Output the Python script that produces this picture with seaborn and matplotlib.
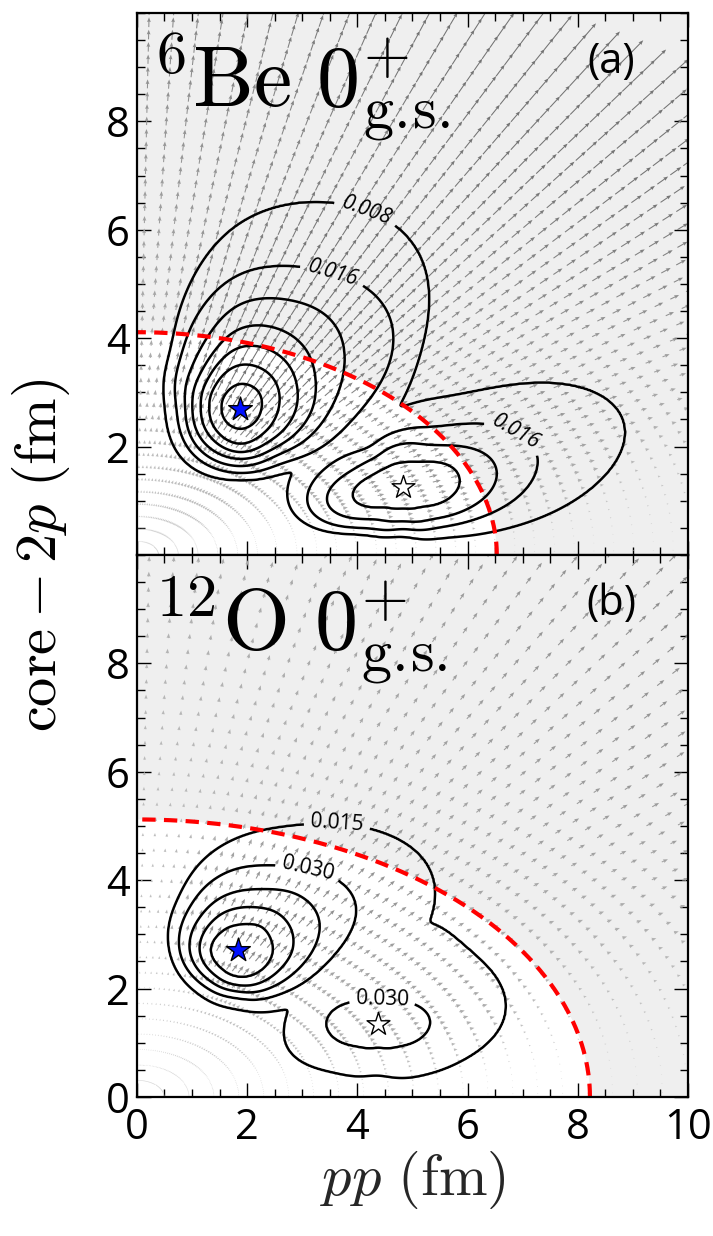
import numpy as np
import matplotlib
matplotlib.use("Agg")
import matplotlib.pyplot as plt
import seaborn as sns

# ---------------- data ----------------
panel_tags = ["(a)", "(b)"]
panel_titles = [r"$^{6}\mathrm{Be}\ 0^{+}_{\mathrm{g.\!s.}}$",
                r"$^{12}\mathrm{O}\ 0^{+}_{\mathrm{g.\!s.}}$"]

# contour levels
levels_a = [0.008, 0.016, 0.024, 0.032, 0.040, 0.048, 0.056]
levels_b = [0.015, 0.030, 0.045, 0.060, 0.075]

# Each density lobe: peak value, centre, and the distance (fm) from the centre
# at which each iso-density level is crossed, read along several directions.
# rows = directions (deg), columns = levels from the highest to the lowest
# ---- panel (a) 6Be, lobe at the blue star
a1_peak, a1_x, a1_y = 0.064, 1.87, 2.72
a1_levels = [0.056, 0.048, 0.040, 0.032, 0.024, 0.016, 0.008]
a1_dir = [0, 20, 35, 45, 65, 90, 110, 135, 180, 225, 270, 310, 340]
a1_dist = [
    [0.39, 0.70, 1.03, 1.33, 1.63, 2.13, 2.88],
    [0.42, 0.76, 1.10, 1.45, 2.00, 3.03, 3.44],
    [0.44, 0.80, 1.17, 1.58, 2.30, 3.38, 4.30],
    [0.45, 0.82, 1.20, 1.65, 2.40, 3.21, 4.58],
    [0.45, 0.82, 1.20, 1.62, 2.17, 2.82, 4.20],
    [0.44, 0.80, 1.14, 1.50, 1.97, 2.52, 3.50],
    [0.40, 0.70, 0.93, 1.15, 1.45, 1.95, 2.45],
    [0.36, 0.60, 0.78, 0.95, 1.15, 1.42, 1.64],
    [0.33, 0.55, 0.70, 0.85, 0.97, 1.12, 1.33],
    [0.36, 0.60, 0.76, 0.92, 1.07, 1.22, 1.43],
    [0.40, 0.68, 0.83, 0.95, 1.08, 1.20, 1.32],
    [0.38, 0.63, 0.80, 0.95, 1.08, 1.25, 1.44],
    [0.38, 0.66, 0.92, 1.15, 1.40, 1.75, 2.30],
]
# ---- panel (a), lobe at the white star
a2_peak, a2_x, a2_y = 0.038, 4.83, 1.27
a2_levels = [0.032, 0.024, 0.016, 0.008]
a2_dir = [0, 16, 33, 45, 60, 90, 135, 165, 192, 225, 270, 315, 340]
a2_dist = [
    [1.07, 1.72, 2.35, 3.45],
    [1.07, 1.85, 2.75, 4.80],
    [0.80, 1.30, 2.05, 3.55],
    [0.60, 1.00, 1.55, 2.40],
    [0.50, 0.85, 1.20, 1.85],
    [0.43, 0.78, 1.03, 1.43],
    [0.45, 0.70, 0.90, 1.30],
    [0.60, 0.95, 1.40, 1.95],
    [1.07, 1.60, 1.95, 2.25],
    [0.50, 0.78, 1.00, 1.15],
    [0.40, 0.62, 0.75, 0.88],
    [0.50, 0.80, 1.00, 1.24],
    [0.80, 1.20, 1.50, 2.00],
]
# ---- panel (b) 12O, lobe at the blue star
b1_peak, b1_x, b1_y = 0.090, 1.84, 2.71
b1_levels = [0.075, 0.060, 0.045, 0.030, 0.015]
b1_dir = [0, 22, 45, 65, 90, 135, 180, 225, 270, 315, 340]
b1_dist = [
    [0.64, 1.00, 1.35, 1.75, 3.20],
    [0.62, 1.05, 1.65, 2.50, 4.10],
    [0.62, 1.00, 1.50, 2.05, 3.20],
    [0.52, 0.85, 1.20, 1.67, 2.47],
    [0.46, 0.77, 1.08, 1.51, 2.07],
    [0.45, 0.70, 0.92, 1.18, 1.45],
    [0.51, 0.71, 0.89, 1.07, 1.25],
    [0.45, 0.62, 0.76, 0.90, 1.08],
    [0.49, 0.64, 0.75, 0.87, 1.07],
    [0.55, 0.75, 0.92, 1.10, 1.41],
    [0.60, 0.85, 1.10, 1.40, 2.20],
]
# ---- panel (b), lobe at the white star
b2_peak, b2_x, b2_y = 0.036, 4.38, 1.35
b2_levels = [0.030, 0.015]
b2_dir = [0, 11, 45, 60, 90, 135, 169, 180, 194, 225, 270, 315, 340]
b2_dist = [
    [1.00, 2.35], [0.95, 2.45], [0.56, 2.05], [0.50, 2.20], [0.44, 1.75],
    [0.56, 1.50], [0.93, 1.63], [1.01, 1.70], [0.90, 1.83], [0.56, 1.20],
    [0.42, 0.90], [0.56, 1.27], [0.81, 1.71],
]

# maxima (stars)
blue_x = [1.87, 1.84]
blue_y = [2.70, 2.71]
white_x = [4.83, 4.38]
white_y = [1.25, 1.35]

# red dashed boundary (semi-axes)
ell_a = [6.53, 8.22]
ell_b = [4.11, 5.12]

# flux arrows: strength and angular profile on the hyperspherical grid
flux_gain = [0.15, 0.13]
flux_dens_gain = [3.0, 2.6]
flux_theta_nodes = [0, 15, 30, 45, 60, 75, 90]
flux_profile_a = [0.05, 0.25, 0.60, 0.90, 1.00, 0.85, 0.65]
flux_profile_b = [0.05, 0.30, 0.65, 0.85, 0.80, 0.60, 0.45]

# contour labels: level, x, y
lab_lev_a = [0.008, 0.016, 0.016]
lab_x_a = [4.20, 3.55, 6.95]
lab_y_a = [6.45, 5.20, 2.42]
lab_lev_b = [0.015, 0.030, 0.030]
lab_x_b = [3.63, 3.10, 4.45]
lab_y_b = [4.90, 4.20, 1.79]

x_ticks = [0, 2, 4, 6, 8, 10]
y_ticks_a = [2, 4, 6, 8]
y_ticks_b = [0, 2, 4, 6, 8]

# ---------------- style ----------------
sns.set_theme(style="ticks")
plt.rcParams.update({
    "font.family": ["Open Sans", "DejaVu Sans"],
    "mathtext.fontset": "cm",
    "text.color": "black", "axes.edgecolor": "black",
    "xtick.color": "black", "ytick.color": "black",
    "xtick.direction": "in", "ytick.direction": "in",
    "xtick.top": True, "ytick.right": True,
    "xtick.major.size": 10, "ytick.major.size": 10,
    "xtick.minor.size": 6, "ytick.minor.size": 6,
    "xtick.major.width": 1.0, "ytick.major.width": 1.0,
    "xtick.minor.width": 1.0, "ytick.minor.width": 1.0,
    "axes.linewidth": 1.6,
})


def smooth_periodic(angs, vals, sigma_deg=10.0):
    fine = np.arange(360.0)
    a = np.asarray(angs, float)
    v = np.asarray(vals, float)
    f = np.interp(fine, np.r_[a - 360, a, a + 360], np.tile(v, 3))
    half = int(3 * sigma_deg)
    k = np.exp(-0.5 * (np.arange(-half, half + 1) / sigma_deg) ** 2)
    k /= k.sum()
    f = np.convolve(np.r_[f[-half:], f, f[:half]], k, mode="valid")
    return fine, f


def lobe(X, Y, peak, x0, y0, lev, dirs, dist, decay=0.35):
    dx, dy = X - x0, Y - y0
    d = np.hypot(dx, dy)
    phi = np.degrees(np.arctan2(dy, dx)) % 360
    dist = np.asarray(dist, float)
    radii = []
    for k in range(len(lev)):
        fine, fk = smooth_periodic(dirs, dist[:, k])
        radii.append(np.interp(phi, fine, fk, period=360))
    knots_d = [np.zeros_like(d)] + radii
    knots_f = [peak] + list(lev)
    out = lev[-1] * np.exp(-(d - radii[-1]) / decay)
    for k in range(len(knots_f) - 1, 0, -1):
        d0, d1 = knots_d[k - 1], knots_d[k]
        f0, f1 = knots_f[k - 1], knots_f[k]
        inside = d <= d1
        w = np.clip((d - d0) / np.maximum(d1 - d0, 1e-9), 0, 1)
        out = np.where(inside, f0 + (f1 - f0) * w, out)
    return out


def density(X, Y, lobes, k=12.0):
    vals = [lobe(X, Y, *lb) for lb in lobes]
    return sum(v ** k for v in vals) ** (1.0 / k)


fig = plt.figure(figsize=(7.13, 12.36), dpi=100)
ax_a = fig.add_axes([0.192, 0.551, 0.773, 0.4385])
ax_b = fig.add_axes([0.192, 0.1125, 0.773, 0.4385])

xs = np.linspace(0, 10, 501)
ys = np.linspace(0, 10, 501)
GX, GY = np.meshgrid(xs, ys)

hyper_theta = np.deg2rad(np.linspace(0.8, 89.2, 56))
hyper_r = np.arange(0.06, 2.65, 0.055)

lobes_a = [(a1_peak, a1_x, a1_y, a1_levels, a1_dir, a1_dist),
           (a2_peak, a2_x, a2_y, a2_levels, a2_dir, a2_dist)]
lobes_b = [(b1_peak, b1_x, b1_y, b1_levels, b1_dir, b1_dist),
           (b2_peak, b2_x, b2_y, b2_levels, b2_dir, b2_dist)]

panels = [
    (ax_a, levels_a, lobes_a, lab_lev_a, lab_x_a, lab_y_a, "italic", y_ticks_a, flux_profile_a),
    (ax_b, levels_b, lobes_b, lab_lev_b, lab_x_b, lab_y_b, "normal", y_ticks_b, flux_profile_b),
]

for i, (ax, levels, lobes, llev, lx, ly, lstyle, yt, fprof) in enumerate(panels):
    ax.set_facecolor("#efefef")
    t = np.linspace(0, np.pi / 2, 300)
    ex = ell_a[i] * np.cos(t)
    ey = ell_b[i] * np.sin(t)
    ax.fill(np.r_[0, ex], np.r_[0, ey], color="white", lw=0, zorder=0)

    # flux arrows on the hyperspherical (rho, theta) grid
    Rr, TH = np.meshgrid(hyper_r, hyper_theta)
    QX = ell_a[i] * Rr * np.cos(TH)
    QY = ell_b[i] * Rr * np.sin(TH)
    keep = (QX < 10.05) & (QY < 10.05)
    dirx = ell_a[i] * np.cos(TH)
    diry = ell_b[i] * np.sin(TH)
    nrm = np.hypot(dirx, diry)
    g = np.interp(np.degrees(TH), flux_theta_nodes, fprof)
    M = flux_gain[i] * Rr ** 0.7 * g + flux_dens_gain[i] * density(QX, QY, lobes) * Rr
    U, V = M * dirx / nrm, M * diry / nrm
    shade = np.clip(0.84 - 1.6 * M[keep], 0.45, 0.84)
    cols = [(c, c, c) for c in shade]
    ax.quiver(QX[keep], QY[keep], U[keep], V[keep], color=cols,
              angles="xy", scale_units="xy", scale=1,
              width=0.0019, headwidth=3.6, headlength=4.6, headaxislength=4.1,
              minlength=0.8, zorder=1)

    Z = density(GX, GY, lobes)
    for lev in levels:
        cs = ax.contour(GX, GY, Z, levels=[lev], colors="black", linewidths=1.8, zorder=3)
        pos = [(px, py) for L, px, py in zip(llev, lx, ly) if abs(L - lev) < 1e-9]
        if pos:
            cs.clabel(manual=pos, fmt="%.3f", fontsize=15, inline=True, inline_spacing=5)
            for txt in cs.labelTexts:
                txt.set_fontstyle(lstyle)
                txt.set_family(["Open Sans", "DejaVu Sans"])

    ax.plot(ex, ey, color="#ff0000", lw=3, dashes=(3.2, 2.0), zorder=4)

    sns.scatterplot(x=[blue_x[i]], y=[blue_y[i]], marker="*", s=320, color="#0010ff",
                    edgecolor="black", linewidth=1.0, ax=ax, zorder=6, legend=False)
    sns.scatterplot(x=[white_x[i]], y=[white_y[i]], marker="*", s=300, color="white",
                    edgecolor="black", linewidth=1.0, ax=ax, zorder=6, legend=False)

    ax.text(0.30, 8.25, panel_titles[i], fontsize=62, color="black", zorder=7)
    ax.text(8.6, 9.1, panel_tags[i], fontsize=30, ha="center", va="center", zorder=7)

    ax.set_xlim(0, 10)
    ax.set_ylim(0, 10)
    ax.set_xticks(x_ticks)
    ax.set_yticks(yt)
    ax.set_xticks(np.arange(0, 10.01, 0.5), minor=True)
    ax.set_yticks(np.arange(0, 10.01, 0.5), minor=True)
    ax.tick_params(labelsize=30)
    ax.tick_params(axis="x", pad=7)
    ax.tick_params(axis="y", pad=5)
    ax.set_xlabel("")
    ax.set_ylabel("")
    for sp in ax.spines.values():
        sp.set_visible(True)
        sp.set_zorder(10)

ax_a.tick_params(labelbottom=False)
ax_b.set_xlabel(r"$pp\ (\mathrm{fm})$", fontsize=42, labelpad=0)
fig.text(0.058, 0.551, r"$\mathrm{core}-2p\ (\mathrm{fm})$", fontsize=42,
         rotation=90, ha="center", va="center")

fig.savefig("out.png", dpi=100)
